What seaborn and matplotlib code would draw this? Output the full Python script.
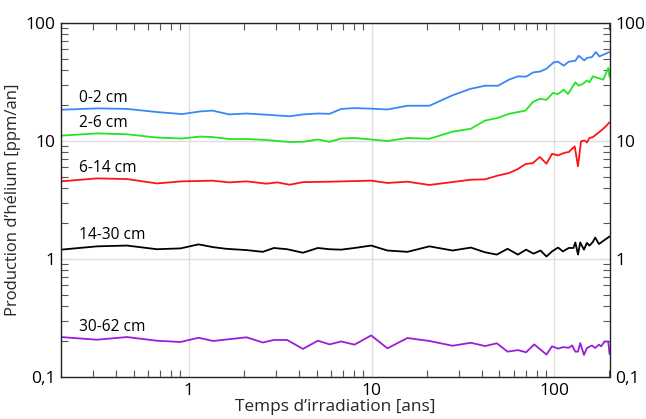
import matplotlib
matplotlib.use("Agg")
import matplotlib.pyplot as plt
import matplotlib.ticker as mticker
import seaborn as sns
import pandas as pd

# ---- data ----
labels = ["0-2 cm", "2-6 cm", "6-14 cm", "14-30 cm", "30-62 cm"]
colors = ["#3a87f5", "#22e622", "#ff1414", "#000000", "#9a1ed8"]

x_blue = [0.2, 0.315, 0.459, 0.669, 0.916, 1.152, 1.345, 1.665, 2.07, 2.66, 3.56, 4.21, 5.08,
          5.89, 6.82, 8.06, 9.94, 12.2, 15.7, 20.7, 27.7, 34.5, 41.7, 49.1, 56.4, 63.1, 70.0,
          76.4, 83.9, 90.4, 99.1, 104.6, 112.4, 119.7, 130.1, 135.6, 145.7, 150.5, 160.3,
          168.6, 175.9, 185.6, 200]
y_blue = [18.4, 18.9, 18.7, 17.6, 16.9, 17.8, 18.1, 16.8, 17.1, 16.7, 16.2, 16.8, 17.1,
          17.0, 18.7, 19.0, 18.8, 18.5, 19.9, 19.9, 24.4, 27.6, 29.4, 29.4, 33.1, 35.3, 35.1,
          38.1, 38.9, 41.0, 46.4, 47.0, 43.5, 47.0, 47.9, 52.8, 48.2, 50.5, 51.5,
          56.8, 52.1, 53.9, 56.8]

x_green = [0.2, 0.315, 0.459, 0.669, 0.916, 1.152, 1.345, 1.665, 2.07, 2.66, 3.56, 4.21, 5.08,
           5.89, 6.82, 8.06, 9.94, 12.2, 15.7, 20.7, 27.7, 34.9, 41.7, 49.1, 56.4, 69.5,
           76.2, 83.2, 90.4, 98.0, 104.6, 112.4, 118.5, 130.1, 135.6, 143.5, 150.5, 155.3,
           162.3, 185.0, 197.0, 200]
y_green = [11.1, 11.6, 11.4, 10.7, 10.5, 10.9, 10.8, 10.4, 10.4, 10.2, 9.8, 9.85, 10.3,
           9.85, 10.5, 10.6, 10.3, 10.0, 10.6, 10.45, 12.0, 12.7, 14.9, 15.7, 17.0, 18.1,
           21.4, 22.8, 22.3, 25.5, 25.0, 27.2, 25.0, 31.4, 29.4, 30.6, 32.6, 31.4,
           35.3, 33.1, 41.6, 35.0]

x_red = [0.2, 0.315, 0.459, 0.669, 0.916, 1.345, 1.665, 2.07, 2.66, 3.05, 3.56, 4.21, 5.89,
         9.94, 12.2, 15.7, 20.7, 27.7, 34.9, 41.7, 49.1, 56.4, 63.1, 69.5, 76.2, 83.2, 90.4,
         97.0, 104.6, 112.4, 119.7, 129.0, 134.5, 139.7, 145.7, 150.5, 155.3, 162.3, 178.0,
         191.0, 200]
y_red = [4.55, 4.82, 4.76, 4.37, 4.55, 4.61, 4.46, 4.55, 4.35, 4.46, 4.26, 4.48, 4.52,
         4.61, 4.41, 4.52, 4.24, 4.49, 4.70, 4.73, 5.1, 5.35, 5.79, 6.38, 6.5, 7.32, 6.42,
         7.79, 7.55, 7.91, 8.07, 9.0, 6.1, 9.93, 10.1, 9.73, 10.6, 10.8, 12.1,
         13.3, 14.4]

x_black = [0.2, 0.315, 0.459, 0.669, 0.9, 1.13, 1.36, 1.6, 2.07, 2.54, 2.92, 3.45, 4.21, 5.08,
           5.89, 6.82, 8.06, 9.94, 12.2, 15.7, 20.7, 27.7, 34.9, 41.7, 48.4, 55.4, 63.1, 70.0,
           76.8, 83.9, 90.4, 97.0, 104.6, 111.2, 119.7, 127.0, 130.1, 134.5, 138.3, 145.0,
           150.5, 155.3, 162.0, 167.0, 175.0, 200]
y_black = [1.20, 1.28, 1.30, 1.21, 1.23, 1.33, 1.26, 1.22, 1.19, 1.15, 1.24, 1.21, 1.13, 1.24,
           1.21, 1.20, 1.24, 1.30, 1.18, 1.15, 1.28, 1.18, 1.25, 1.14, 1.09, 1.22, 1.09, 1.20,
           1.11, 1.18, 1.05, 1.16, 1.25, 1.16, 1.24, 1.24, 1.38, 1.09, 1.38, 1.20,
           1.37, 1.30, 1.39, 1.52, 1.34, 1.55]

x_purple = [0.2, 0.315, 0.459, 0.669, 0.9, 1.13, 1.36, 2.07, 2.54, 2.92, 3.45, 4.21, 5.08, 5.89,
            6.82, 8.06, 9.94, 12.2, 15.7, 20.7, 27.7, 34.9, 41.7, 48.4, 55.4, 63.1, 70.0,
            77.5, 90.4, 97.0, 104.6, 111.2, 119.7, 125.0, 130.1, 134.5, 138.3, 145.0, 150.5,
            160.3, 167.0, 175.0, 180.0, 188.0, 197.0, 200]
y_purple = [0.218, 0.207, 0.218, 0.203, 0.198, 0.215, 0.202, 0.217, 0.196, 0.206, 0.206, 0.173,
            0.203, 0.189, 0.2, 0.188, 0.225, 0.175, 0.214, 0.202, 0.184, 0.195, 0.183, 0.193,
            0.164, 0.169, 0.162, 0.189, 0.155, 0.182, 0.174, 0.179, 0.177, 0.185, 0.164,
            0.164, 0.194, 0.154, 0.176, 0.185, 0.176, 0.188, 0.182, 0.2, 0.2, 0.157]

series_x = [x_blue, x_green, x_red, x_black, x_purple]
series_y = [y_blue, y_green, y_red, y_black, y_purple]
label_y = [23.3, 14.3, 5.94, 1.61, 0.267]
label_x = 0.252

x_ticks = [1, 10, 100]
x_ticklabels = ["1", "10", "100"]
y_ticks = [0.1, 1, 10, 100]
y_ticklabels = ["0,1", "1", "10", "100"]

# ---- figure ----
sns.set_theme(style="white")
FONT = ["Open Sans", "DejaVu Sans"]
plt.rcParams["font.family"] = FONT

fig = plt.figure(figsize=(6.46, 4.19), dpi=100)
ax = fig.add_axes([61 / 646, 1 - 377 / 419, (609.5 - 61) / 646, (377 - 23) / 419])

for xs, ys, c, lab in zip(series_x, series_y, colors, labels):
    df = pd.DataFrame({"x": xs, "y": ys})
    sns.lineplot(data=df, x="x", y="y", ax=ax, color=c, lw=1.3, sort=False,
                 estimator=None, legend=False)

ax.set_xscale("log")
ax.set_yscale("log")
ax.set_xlim(0.2, 200)
ax.set_ylim(0.1, 100)

for ly, lab in zip(label_y, labels):
    ax.text(label_x, ly, lab, fontsize=11.2, color="black", va="center", ha="left")

ax.set_xticks(x_ticks)
ax.set_xticklabels(x_ticklabels)
ax.set_yticks(y_ticks)
ax.set_yticklabels(y_ticklabels)
ax.xaxis.set_minor_locator(mticker.LogLocator(base=10, subs=range(2, 10), numticks=20))
ax.yaxis.set_minor_locator(mticker.LogLocator(base=10, subs=range(2, 10), numticks=20))
ax.xaxis.set_minor_formatter(mticker.NullFormatter())
ax.yaxis.set_minor_formatter(mticker.NullFormatter())

ax.grid(True, which="major", color="#dddddd", lw=1.0)
ax.set_axisbelow(True)

ax.tick_params(which="major", length=0, labelsize=12.5, pad=4, colors="black")
ax.tick_params(which="minor", direction="in", length=5, width=0.8, color="#555555",
               top=True, right=True, bottom=True, left=True)
ax.tick_params(axis="y", which="major", labelright=True, right=True, left=True)
ax.tick_params(axis="x", which="major", pad=4)

for sp in ax.spines.values():
    sp.set_visible(True)
    sp.set_color("#222222")
    sp.set_linewidth(1.0)

ax.set_xlabel("Temps d’irradiation [ans]", fontsize=12.4, labelpad=0)
ax.set_ylabel("Production d’hélium [ppm/an]", fontsize=12.0, labelpad=3)

fig.savefig("out.png", dpi=100, facecolor="white")
